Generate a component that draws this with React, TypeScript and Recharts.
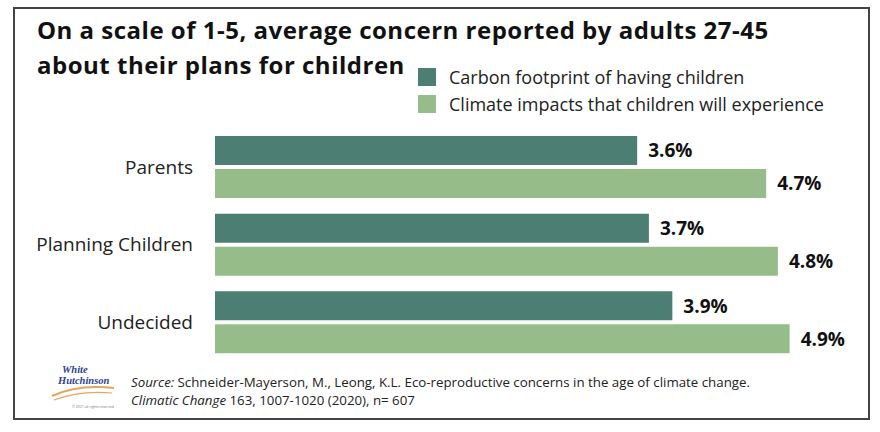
import { BarChart, Bar, XAxis, YAxis, LabelList } from "recharts";

const groups = ["Parents", "Planning Children", "Undecided"];
const carbon = [3.6, 3.7, 3.9];
const climate = [4.7, 4.8, 4.9];
const seriesNames = ["Carbon footprint of having children", "Climate impacts that children will experience"];
const COLORS = ["#4d7e74", "#96bd89"];

const data = groups.map((g, i) => ({ group: g, carbon: carbon[i], climate: climate[i] }));

const FONT = "'Open Sans', Lato, sans-serif";

function LegendBox() {
  return (
    <div style={{ position: "absolute", left: 418, top: 63, fontFamily: FONT }}>
      {seriesNames.map((n, i) => (
        <div key={n} style={{ display: "flex", alignItems: "center", height: 27 }}>
          <span style={{ width: 18, height: 18, background: COLORS[i], display: "inline-block", marginRight: 13 }} />
          <span style={{ fontSize: 18, color: "#222" }}>{n}</span>
        </div>
      ))}
    </div>
  );
}

function Logo() {
  return (
    <svg width={72} height={50} style={{ position: "absolute", left: 48, top: 364 }}>
      <text x={14} y={9} fontFamily="'Liberation Serif', serif" fontStyle="italic" fontWeight="bold" fontSize={10.5} fill="#2c3f90">White</text>
      <text x={10} y={20} fontFamily="'Liberation Serif', serif" fontStyle="italic" fontWeight="bold" fontSize={10.5} fill="#2c3f90">Hutchinson</text>
      <path d="M4 32 Q30 20 66 24" stroke="#e8a35c" strokeWidth={2} fill="none" />
      <path d="M6 36 Q32 26 64 29" stroke="#e8a35c" strokeWidth={1.2} fill="none" />
      <text x={24} y={44} fontFamily={FONT} fontSize={3.5} fill="#777">© 2021 all rights reserved</text>
    </svg>
  );
}

export default function App() {
  return (
    <div style={{ position: "absolute", left: 0, top: 0, width: 880, height: 432, background: "#fff", fontFamily: FONT }}>
      <div style={{ position: "absolute", left: 13, top: 7, width: 853, height: 409, border: "2px solid #444" }} />
      <div style={{ position: "absolute", left: 37, top: 12, fontSize: 24, letterSpacing: 0.5, fontWeight: 700, lineHeight: "35px", color: "#111" }}>
        On a scale of 1-5, average concern reported by adults 27-45
        <br />
        about their plans for children
      </div>
      <BarChart
        width={880}
        height={432}
        data={data}
        layout="vertical"
        margin={{ top: 128, right: 20, bottom: 71, left: 0 }}
        barSize={29}
        barGap={4}
        style={{ position: "absolute", left: 0, top: 0 }}
      >
        <XAxis type="number" domain={[0, 5.5]} hide />
        <YAxis
          type="category"
          dataKey="group"
          width={215}
          axisLine={false}
          tickLine={false}
          tickSize={0}
          tickMargin={22}
          tick={{ fontSize: 19, fill: "#222", fontFamily: FONT }}
        />
        <Bar dataKey="carbon" name={seriesNames[0]} fill={COLORS[0]} isAnimationActive={false}>
          <LabelList dataKey="carbon" position="right" offset={11} formatter={(v: number) => `${v}%`}
            style={{ fontSize: 19, fontWeight: 700, fill: "#111", fontFamily: FONT }} />
        </Bar>
        <Bar dataKey="climate" name={seriesNames[1]} fill={COLORS[1]} isAnimationActive={false}>
          <LabelList dataKey="climate" position="right" offset={11} formatter={(v: number) => `${v}%`}
            style={{ fontSize: 19, fontWeight: 700, fill: "#111", fontFamily: FONT }} />
        </Bar>
      </BarChart>
      <LegendBox />
      <Logo />
      <div style={{ position: "absolute", left: 131, top: 373, fontSize: 13.3, lineHeight: "18px", color: "#222" }}>
        <i>Source:</i> Schneider-Mayerson, M., Leong, K.L. Eco-reproductive concerns in the age of climate change.
        <br />
        <i>Climatic Change</i> 163, 1007-1020 (2020), n= 607
      </div>
    </div>
  );
}
